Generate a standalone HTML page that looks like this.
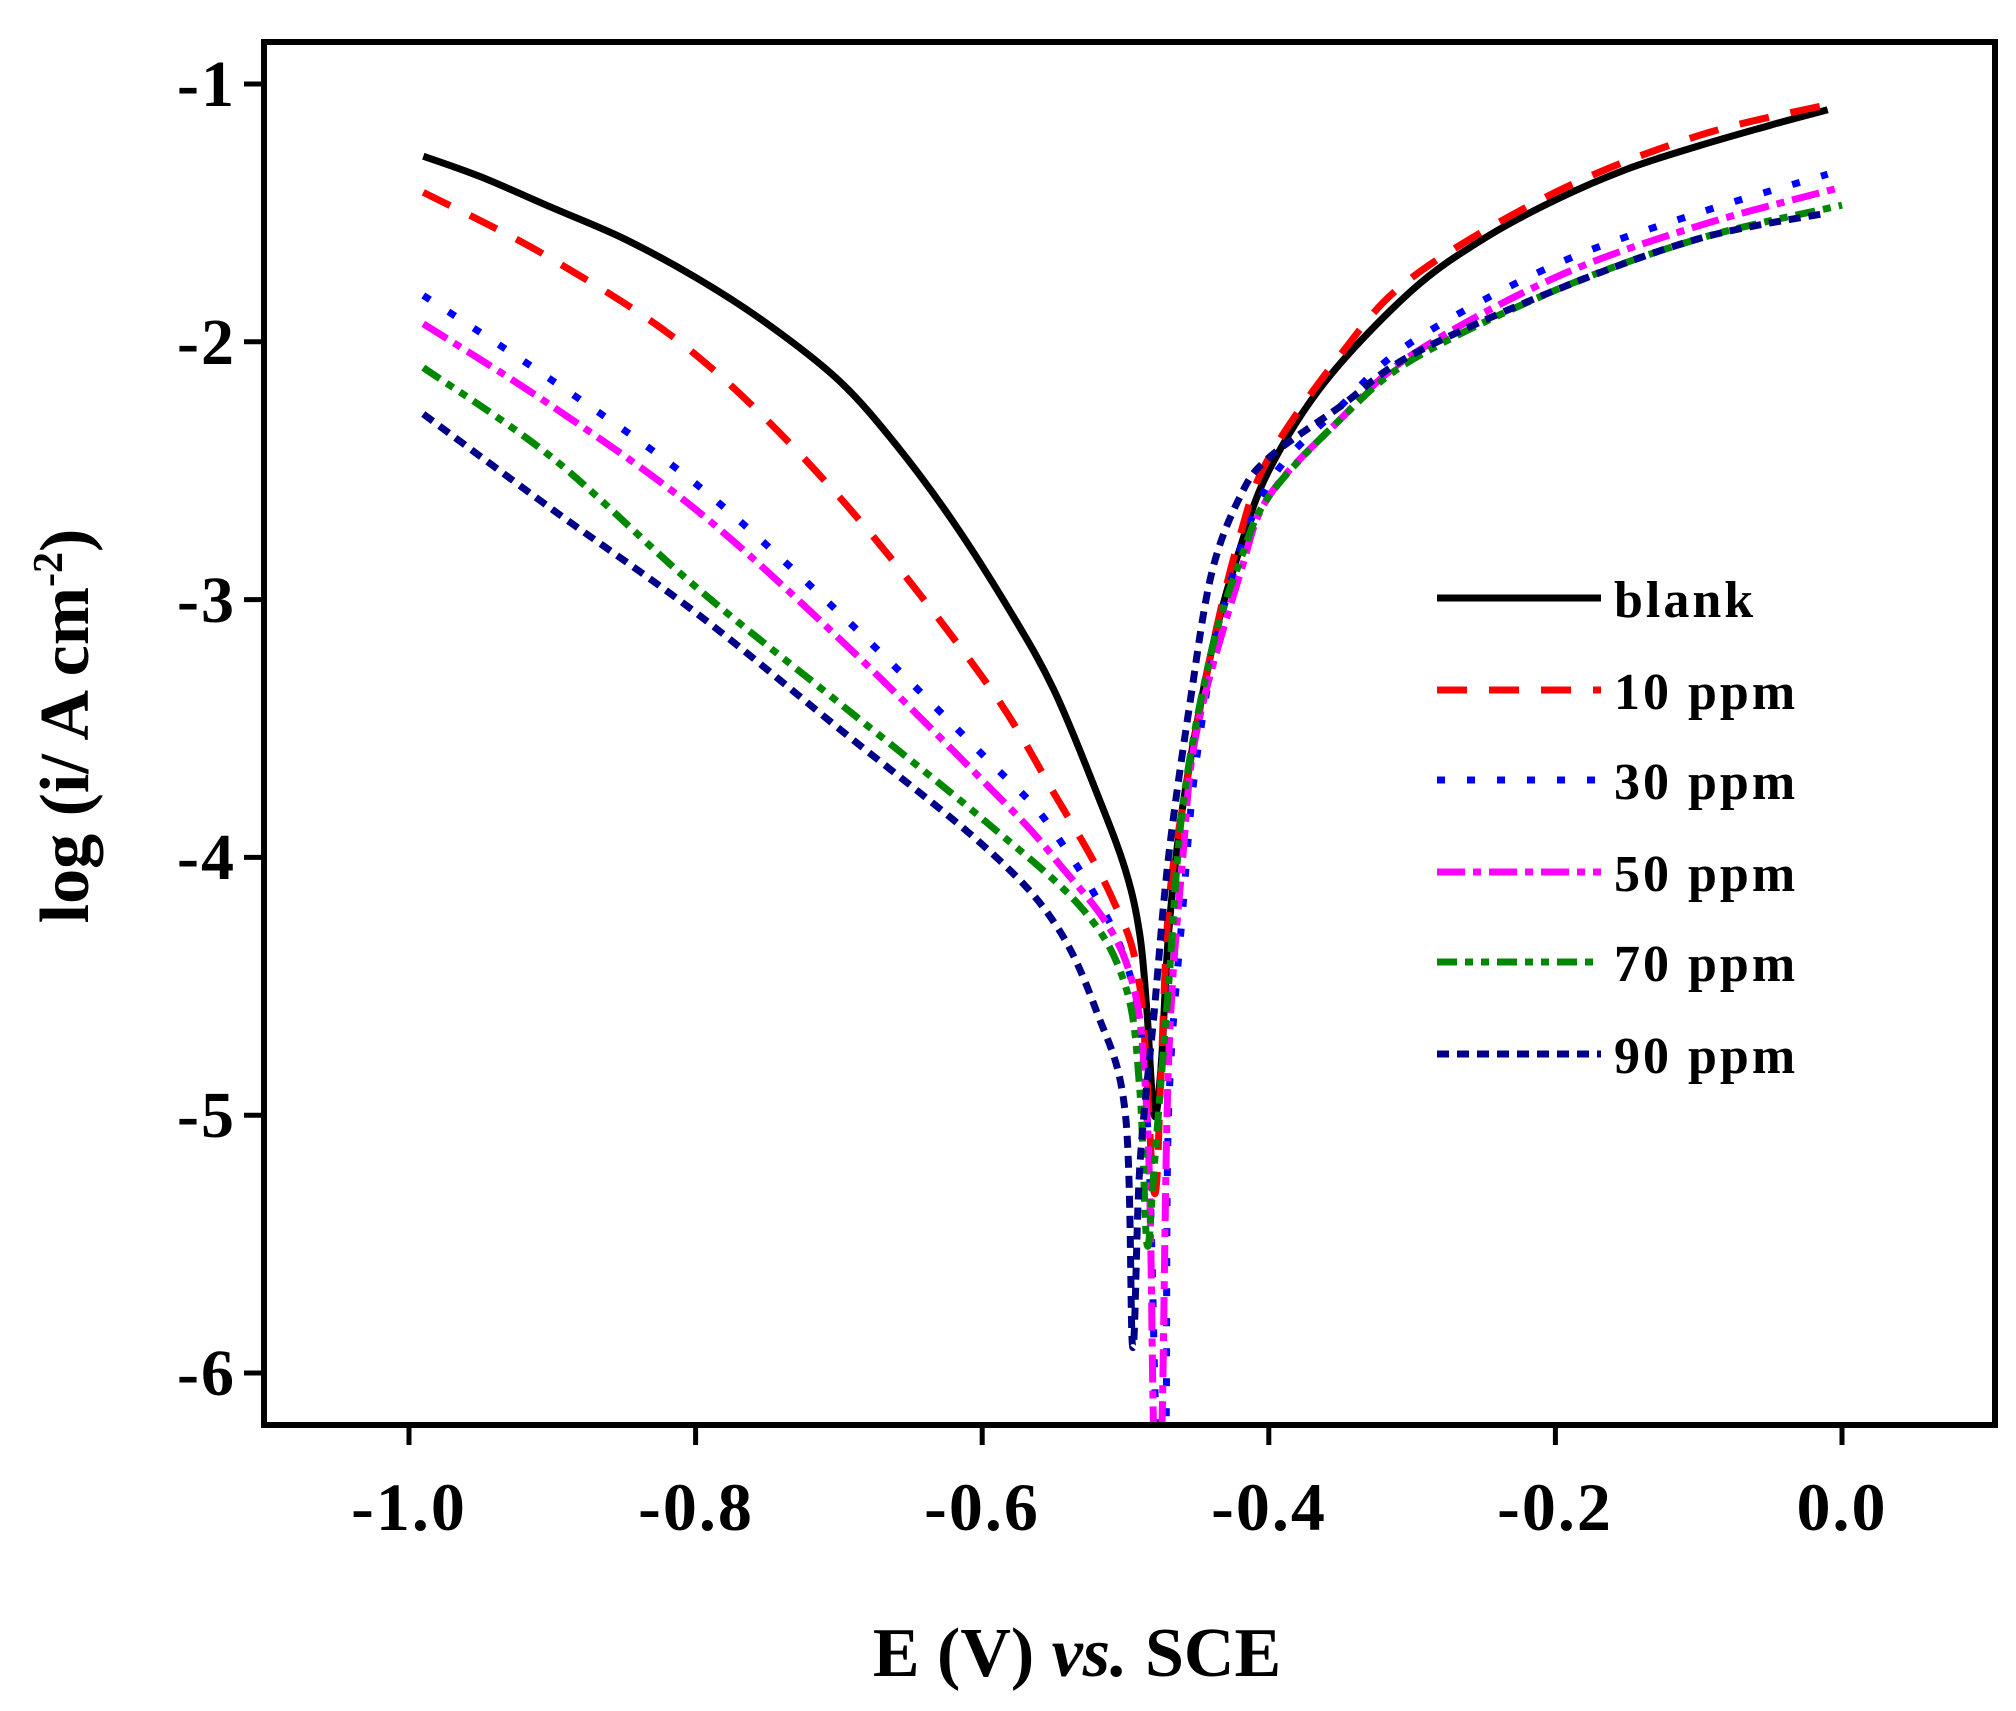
<!DOCTYPE html>
<html><head><meta charset="utf-8"><style>
html,body{margin:0;padding:0;background:#fff;}
svg{display:block;}
text{font-family:"Liberation Serif",serif;font-weight:bold;fill:#000;}
</style></head><body>
<svg id="s" width="2016" height="1711" xmlns="http://www.w3.org/2000/svg">
<defs><clipPath id="c"><rect x="267" y="45" width="1725" height="1377"/></clipPath></defs>
<g id="curves" clip-path="url(#c)"></g>
<rect x="264" y="42" width="1731" height="1383" fill="none" stroke="#000" stroke-width="6"/>
<g id="ticks" stroke="#000" stroke-width="5"></g>
<g font-size="68" text-anchor="middle" letter-spacing="2">
<text x="409" y="1530">-1.0</text><text x="696" y="1530">-0.8</text><text x="982" y="1530">-0.6</text>
<text x="1269" y="1530">-0.4</text><text x="1555" y="1530">-0.2</text><text x="1842" y="1530">0.0</text>
</g>
<g font-size="66" text-anchor="end" letter-spacing="2">
<text x="236" y="106">-1</text><text x="236" y="364">-2</text><text x="236" y="622">-3</text>
<text x="236" y="879">-4</text><text x="236" y="1137">-5</text><text x="236" y="1395">-6</text>
</g>
<text x="1077" y="1676" font-size="70" text-anchor="middle">E (V) <tspan font-style="italic">vs.</tspan> SCE</text>
<text transform="translate(88,726) rotate(-90)" font-size="70" text-anchor="middle">log (i/ A cm<tspan dy="-26" font-size="42">-2</tspan><tspan dy="26">)</tspan></text>
<g id="legend"></g>
<g font-size="52" letter-spacing="3">
<text x="1614" y="617">blank</text><text x="1614" y="709">10 ppm</text><text x="1614" y="799">30 ppm</text>
<text x="1614" y="891">50 ppm</text><text x="1614" y="981">70 ppm</text><text x="1614" y="1073">90 ppm</text>
</g>
</svg>
<script>
var NS="http://www.w3.org/2000/svg";
function X(e){return 1842+e*1433;}function Y(l){return 84+(-1-l)*257.8;}
var S=[
["#000","",[[-0.99,-1.28],[-0.95,-1.36],[-0.9,-1.48],[-0.85,-1.6],[-0.8,-1.75],[-0.75,-1.93],[-0.7,-2.15],[-0.66,-2.4],[-0.62,-2.7],[-0.58,-3.05],[-0.55,-3.35],[-0.52,-3.75],[-0.5,-4.05],[-0.49,-4.3],[-0.485,-4.6],[-0.48,-5.0],[-0.475,-4.8],[-0.47,-4.3],[-0.46,-3.8],[-0.44,-3.2],[-0.42,-2.8],[-0.4,-2.5],[-0.36,-2.15],[-0.3,-1.8],[-0.25,-1.6],[-0.2,-1.45],[-0.15,-1.33],[-0.1,-1.24],[-0.05,-1.16],[-0.01,-1.1]]],
["#f00","30 22",[[-0.99,-1.42],[-0.9,-1.68],[-0.8,-2.05],[-0.7,-2.6],[-0.6,-3.3],[-0.55,-3.75],[-0.51,-4.15],[-0.49,-4.5],[-0.48,-5.3],[-0.475,-4.8],[-0.47,-4.2],[-0.46,-3.8],[-0.44,-3.2],[-0.42,-2.75],[-0.4,-2.45],[-0.35,-2.05],[-0.3,-1.75],[-0.2,-1.42],[-0.1,-1.2],[-0.01,-1.08]]],
["#00f","8 22",[[-0.99,-1.82],[-0.9,-2.15],[-0.8,-2.55],[-0.7,-3.05],[-0.6,-3.6],[-0.55,-3.9],[-0.5,-4.4],[-0.485,-5.0],[-0.478,-6.3],[-0.472,-6.3],[-0.47,-5.0],[-0.46,-4.2],[-0.45,-3.6],[-0.43,-3.0],[-0.4,-2.55],[-0.35,-2.25],[-0.3,-2.0],[-0.2,-1.7],[-0.1,-1.5],[-0.01,-1.35]]],
["#f0f","28 8 8 8",[[-0.99,-1.93],[-0.9,-2.25],[-0.8,-2.65],[-0.7,-3.15],[-0.6,-3.7],[-0.55,-4.0],[-0.5,-4.4],[-0.485,-5.0],[-0.48,-6.3],[-0.475,-6.3],[-0.47,-4.8],[-0.46,-4.0],[-0.45,-3.5],[-0.42,-2.9],[-0.4,-2.6],[-0.35,-2.3],[-0.3,-2.05],[-0.2,-1.75],[-0.1,-1.55],[0,-1.4]]],
["#080","20 8 8 8 8 8",[[-0.99,-2.1],[-0.9,-2.45],[-0.8,-2.95],[-0.7,-3.4],[-0.6,-3.85],[-0.53,-4.2],[-0.5,-4.5],[-0.49,-4.9],[-0.485,-5.5],[-0.48,-5.2],[-0.47,-4.5],[-0.46,-3.8],[-0.44,-3.2],[-0.42,-2.85],[-0.4,-2.6],[-0.35,-2.3],[-0.3,-2.07],[-0.2,-1.8],[-0.1,-1.6],[0,-1.47]]],
["#008","12 8",[[-0.99,-2.28],[-0.9,-2.65],[-0.8,-3.05],[-0.7,-3.5],[-0.6,-3.95],[-0.55,-4.25],[-0.52,-4.6],[-0.5,-5.0],[-0.495,-5.9],[-0.49,-5.2],[-0.48,-4.6],[-0.47,-4.0],[-0.455,-3.4],[-0.44,-2.9],[-0.42,-2.6],[-0.4,-2.45],[-0.35,-2.25],[-0.3,-2.05],[-0.2,-1.8],[-0.1,-1.6],[-0.01,-1.5]]]
];
function smooth(pts){
 var P=pts.map(function(q){return [X(q[0]),Y(q[1])];});
 var d="M"+P[0][0].toFixed(1)+","+P[0][1].toFixed(1);
 for(var i=0;i<P.length-1;i++){
  var p0=P[i-1]||P[i],p1=P[i],p2=P[i+1],p3=P[i+2]||P[i+1],k=1/6;
  var c1=[p1[0]+(p2[0]-p0[0])*k,p1[1]+(p2[1]-p0[1])*k],c2=[p2[0]-(p3[0]-p1[0])*k,p2[1]-(p3[1]-p1[1])*k];
  d+="C"+c1.map(function(v){return v.toFixed(1)}).join(",")+" "+c2.map(function(v){return v.toFixed(1)}).join(",")+" "+p2[0].toFixed(1)+","+p2[1].toFixed(1);
 }
 return d;
}
var g=document.getElementById("curves"),lg=document.getElementById("legend");
var ly=[598,690,780,872,962,1054];
S.forEach(function(s,i){
 var p=document.createElementNS(NS,"path");
 p.setAttribute("d",smooth(s[2]));
 p.setAttribute("fill","none");p.setAttribute("stroke",s[0]);p.setAttribute("stroke-width","7");
 if(s[1])p.setAttribute("stroke-dasharray",s[1]);g.appendChild(p);
 var l=document.createElementNS(NS,"line");
 l.setAttribute("x1",1437);l.setAttribute("x2",1601);l.setAttribute("y1",ly[i]);l.setAttribute("y2",ly[i]);
 l.setAttribute("stroke",s[0]);l.setAttribute("stroke-width","7");if(s[1])l.setAttribute("stroke-dasharray",s[1]);
 lg.appendChild(l);
});
var t=document.getElementById("ticks"),h="";
for(var i=0;i<6;i++){var x=409+i*286.6;h+='<line x1="'+x+'" x2="'+x+'" y1="1425" y2="1445"/>';
var y=84+i*257.8;h+='<line x1="264" x2="244" y1="'+y+'" y2="'+y+'"/>';}
t.innerHTML=h;
</script>
</body></html>
